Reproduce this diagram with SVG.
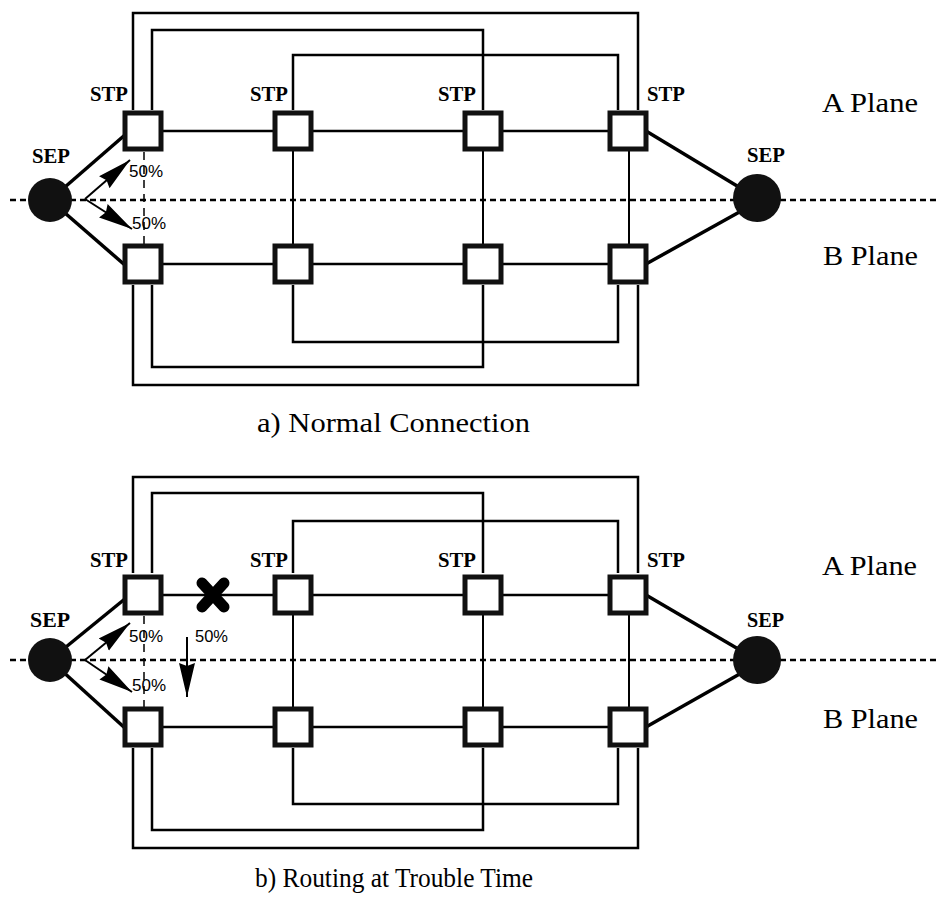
<svg xmlns="http://www.w3.org/2000/svg" width="939" height="905" viewBox="0 0 939 905">
<style>
.ln{stroke:#000;stroke-width:2.5;fill:none}
.vt{stroke:#000;stroke-width:2;fill:none}
.node rect{fill:#fff;stroke:#111;stroke-width:5}
.dash{stroke:#000;stroke-width:2.5;stroke-dasharray:6 4;fill:none}
.vd{stroke:#000;stroke-width:1.5;stroke-dasharray:8 6;fill:none}
.sl{stroke:#000;stroke-width:3.5}
.arr{stroke:#000;stroke-width:2;marker-end:url(#head)}
.sep circle{fill:#111}
.lbl{font-family:"Liberation Serif",serif;font-weight:bold;font-size:20px;fill:#000}
.plane{font-family:"Liberation Serif",serif;font-size:27px;fill:#000}
.pct{font-family:"Liberation Sans",sans-serif;font-size:16px;fill:#000}
.cap{font-family:"Liberation Serif",serif;font-size:27px;fill:#000}
.xm{stroke:#000;stroke-width:11;stroke-linecap:round}
</style>
<defs>
<marker id="head" viewBox="0 0 34 18" refX="34" refY="9" markerWidth="34" markerHeight="18" markerUnits="userSpaceOnUse" orient="auto"><path d="M0,1 L34,9 L0,17 L3,9 z" fill="#000"/></marker>
</defs>
<rect width="939" height="905" fill="#fff"/>

<!-- Panel a -->
<g id="panel-a">
<g id="a-connectors">
<path class="dash" d="M10,200 H939"/>
<path class="ln" d="M133,110 V13 H638 V110"/>
<path class="ln" d="M133,285 V385 H638 V285"/>
<path class="ln" d="M152,110 V30 H483 V110"/>
<path class="ln" d="M152,285 V367 H483 V285"/>
<path class="ln" d="M293,110 V55 H618 V110"/>
<path class="ln" d="M293,285 V342 H618 V285"/>
<path class="ln" d="M143,131 H628"/>
<path class="ln" d="M143,264 H628"/>
<path class="vt" d="M293,131 V264"/>
<path class="vt" d="M483,131 V264"/>
<path class="vt" d="M629,131 V264"/>
<path class="vd" d="M144,152 V244"/>
<line class="sl" x1="50" y1="200" x2="126" y2="134"/>
<line class="sl" x1="50" y1="200" x2="126" y2="266"/>
<line class="sl" x1="646" y1="131" x2="757" y2="198"/>
<line class="sl" x1="646" y1="264" x2="752" y2="205"/>
<line class="arr" x1="85" y1="199" x2="130" y2="160"/>
<line class="arr" x1="85" y1="199" x2="132" y2="229"/>
</g>
<g id="a-A1" class="node"><rect x="125" y="113" width="36" height="36"/><text class="lbl" x="90" y="101" textLength="38" lengthAdjust="spacingAndGlyphs">STP</text></g>
<g id="a-A2" class="node"><rect x="275" y="113" width="36" height="36"/><text class="lbl" x="250" y="101" textLength="38" lengthAdjust="spacingAndGlyphs">STP</text></g>
<g id="a-A3" class="node"><rect x="465" y="113" width="36" height="36"/><text class="lbl" x="438" y="101" textLength="38" lengthAdjust="spacingAndGlyphs">STP</text></g>
<g id="a-A4" class="node"><rect x="610" y="113" width="36" height="36"/><text class="lbl" x="647" y="101" textLength="38" lengthAdjust="spacingAndGlyphs">STP</text></g>
<g id="a-B1" class="node"><rect x="125" y="246" width="36" height="36"/></g>
<g id="a-B2" class="node"><rect x="275" y="246" width="36" height="36"/></g>
<g id="a-B3" class="node"><rect x="465" y="246" width="36" height="36"/></g>
<g id="a-B4" class="node"><rect x="610" y="246" width="36" height="36"/></g>
<g id="a-SEP1" class="sep"><circle cx="50" cy="200" r="22"/><text class="lbl" x="32" y="163" textLength="38" lengthAdjust="spacingAndGlyphs">SEP</text></g>
<g id="a-SEP2" class="sep"><circle cx="757" cy="198" r="24"/><text class="lbl" x="747" y="162" textLength="38" lengthAdjust="spacingAndGlyphs">SEP</text></g>
<text class="pct" x="129" y="177" textLength="34" lengthAdjust="spacingAndGlyphs">50%</text>
<text class="pct" x="132" y="229" textLength="34" lengthAdjust="spacingAndGlyphs">50%</text>
<text class="plane" x="822" y="112" textLength="96" lengthAdjust="spacingAndGlyphs">A Plane</text>
<text class="plane" x="823" y="265" textLength="95" lengthAdjust="spacingAndGlyphs">B Plane</text>
<text class="cap" x="257" y="432" textLength="273" lengthAdjust="spacingAndGlyphs">a) Normal Connection</text>
</g>

<!-- Panel b -->
<g id="panel-b">
<g transform="translate(0,463)">
<g id="b-connectors">
<path class="dash" d="M10,197 H939"/>
<path class="ln" d="M133,110 V14 H638 V110"/>
<path class="ln" d="M133,285 V385 H638 V285"/>
<path class="ln" d="M152,110 V30 H483 V110"/>
<path class="ln" d="M152,285 V367 H483 V285"/>
<path class="ln" d="M293,110 V58 H618 V110"/>
<path class="ln" d="M293,285 V341 H618 V285"/>
<path class="ln" d="M143,132 H628"/>
<path class="ln" d="M143,264 H628"/>
<path class="vt" d="M293,132 V264"/>
<path class="vt" d="M483,132 V264"/>
<path class="vt" d="M629,132 V264"/>
<path class="vd" d="M144,153 V244"/>
<line class="sl" x1="50" y1="197" x2="126" y2="135"/>
<line class="sl" x1="50" y1="197" x2="126" y2="266"/>
<line class="sl" x1="646" y1="132" x2="757" y2="197"/>
<line class="sl" x1="646" y1="264" x2="752" y2="204"/>
<line class="arr" x1="85" y1="197" x2="130" y2="160"/>
<line class="arr" x1="85" y1="197" x2="132" y2="229"/>
<line class="arr" x1="187" y1="174" x2="187" y2="234"/>
</g>
<g id="b-fault"><line class="xm" x1="202" y1="120" x2="224" y2="144"/><line class="xm" x1="224" y1="120" x2="202" y2="144"/></g>
<g id="b-A1" class="node"><rect x="125" y="114" width="36" height="36"/><text class="lbl" x="90" y="104" textLength="38" lengthAdjust="spacingAndGlyphs">STP</text></g>
<g id="b-A2" class="node"><rect x="275" y="114" width="36" height="36"/><text class="lbl" x="250" y="104" textLength="38" lengthAdjust="spacingAndGlyphs">STP</text></g>
<g id="b-A3" class="node"><rect x="465" y="114" width="36" height="36"/><text class="lbl" x="438" y="104" textLength="38" lengthAdjust="spacingAndGlyphs">STP</text></g>
<g id="b-A4" class="node"><rect x="610" y="114" width="36" height="36"/><text class="lbl" x="647" y="104" textLength="38" lengthAdjust="spacingAndGlyphs">STP</text></g>
<g id="b-B1" class="node"><rect x="125" y="246" width="36" height="36"/></g>
<g id="b-B2" class="node"><rect x="275" y="246" width="36" height="36"/></g>
<g id="b-B3" class="node"><rect x="465" y="246" width="36" height="36"/></g>
<g id="b-B4" class="node"><rect x="610" y="246" width="36" height="36"/></g>
<g id="b-SEP1" class="sep"><circle cx="50" cy="197" r="22"/><text class="lbl" x="30" y="164" textLength="40" lengthAdjust="spacingAndGlyphs">SEP</text></g>
<g id="b-SEP2" class="sep"><circle cx="757" cy="197" r="24"/><text class="lbl" x="747" y="164" textLength="37" lengthAdjust="spacingAndGlyphs">SEP</text></g>
<text class="pct" x="129" y="179" textLength="34" lengthAdjust="spacingAndGlyphs">50%</text>
<text class="pct" x="132" y="228" textLength="34" lengthAdjust="spacingAndGlyphs">50%</text>
<text class="pct" x="195" y="179" textLength="33" lengthAdjust="spacingAndGlyphs">50%</text>
<text class="plane" x="822" y="112" textLength="95" lengthAdjust="spacingAndGlyphs">A Plane</text>
<text class="plane" x="823" y="265" textLength="95" lengthAdjust="spacingAndGlyphs">B Plane</text>
</g>
<text class="cap" x="255" y="887" textLength="278" lengthAdjust="spacingAndGlyphs">b) Routing at Trouble Time</text>
</g>
</svg>
